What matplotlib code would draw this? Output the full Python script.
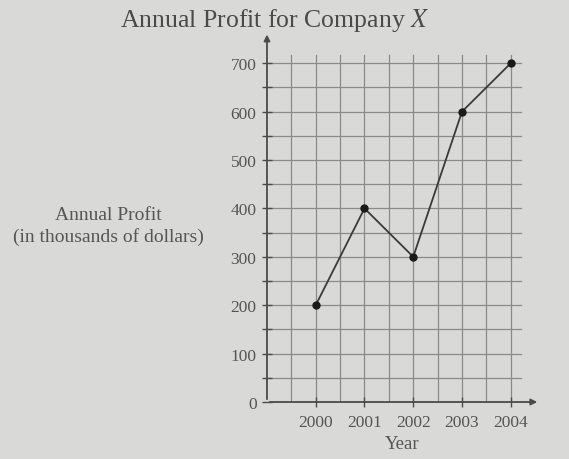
import matplotlib
matplotlib.use("Agg")
import matplotlib.pyplot as plt
import numpy as np

years = [2000, 2001, 2002, 2003, 2004]
profit = [200, 400, 300, 600, 700]
y_ticks = [0, 100, 200, 300, 400, 500, 600, 700]
year_labels = ["2000", "2001", "2002", "2003", "2004"]

plt.rcParams['font.family'] = ['Liberation Serif', 'DejaVu Serif']
plt.rcParams['mathtext.fontset'] = 'stix'

bg = '#d9dad8'
ink = '#4a4a4a'
gridc = '#8a8a8a'

fig = plt.figure(figsize=(5.69, 4.60), dpi=100, facecolor=bg)
ax = fig.add_axes([0.4692, 0.1239, 0.4756, 0.7996])
ax.set_facecolor(bg)
ax.set_xlim(1999, 2004.55)
ax.set_ylim(0, 760)
for s in ax.spines.values():
    s.set_visible(False)

# grid
for yv in np.arange(50, 701, 50):
    ax.plot([1999, 2004.2], [yv, yv], color=gridc, lw=0.9, zorder=1)
for xv in np.arange(1999.5, 2004.01, 0.5):
    ax.plot([xv, xv], [0, 718], color=gridc, lw=0.9, zorder=1)

# axes with arrows
ax.annotate('', xy=(1999, 765), xytext=(1999, 0),
            arrowprops=dict(arrowstyle='-|>', color=ink, lw=1.3, mutation_scale=9),
            annotation_clip=False, zorder=3)
ax.annotate('', xy=(2004.6, 0), xytext=(1999, 0),
            arrowprops=dict(arrowstyle='-|>', color=ink, lw=1.3, mutation_scale=9),
            annotation_clip=False, zorder=3)

ax.set_yticks(np.arange(0, 701, 50))
ax.set_yticklabels([str(v) if v % 100 == 0 else '' for v in np.arange(0, 701, 50)])
ax.set_xticks(years)
ax.set_xticklabels(year_labels)
ax.tick_params(axis='y', direction='inout', length=7, width=1.0, color=ink,
               labelsize=12.5, labelcolor='#555555', pad=4)
ax.tick_params(axis='x', direction='inout', length=7, width=1.0, color=ink,
               labelsize=12.5, labelcolor='#555555', pad=5)

ax.plot(years, profit, color='#3a3a3a', lw=1.3, zorder=4, clip_on=False)
ax.plot(years, profit, 'o', color='#1a1a1a', ms=5, zorder=5, clip_on=False)

ax.set_xlabel('Year', fontsize=13.5, color='#555555', labelpad=4)

fig.text(0.483, 0.955, 'Annual Profit for Company $X$', ha='center', va='center',
         fontsize=18.5, color='#4a4a4a')
fig.text(0.190, 0.508, 'Annual Profit\n(in thousands of dollars)', ha='center', va='center',
         fontsize=14, color='#555555', linespacing=1.3)

fig.savefig('out.png', dpi=100, facecolor=bg)
